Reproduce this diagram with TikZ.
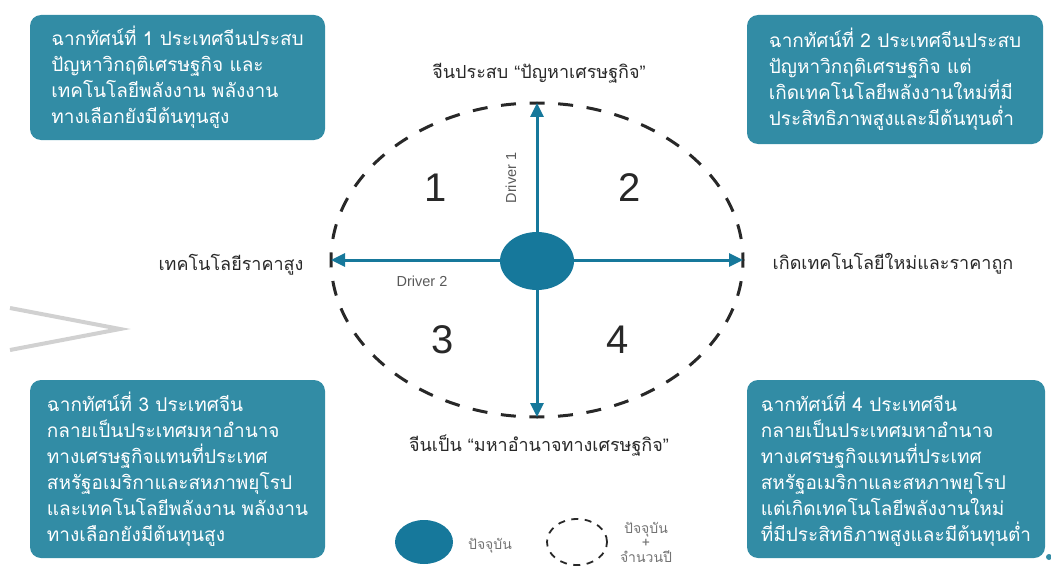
\documentclass[tikz,border=0pt]{standalone}
\usepackage{fontspec}
\setmainfont{Liberation Sans}
\newfontfamily\thaifont[Script=Thai]{Loma}
\usepackage{tikz}
\usetikzlibrary{shapes.geometric, arrows.meta, positioning}

\definecolor{teal1}{RGB}{50, 140, 165}
\definecolor{teal2}{RGB}{22, 120, 155}
\definecolor{ink1}{RGB}{40, 40, 40}

\tikzset{
  scenario/.style={fill=teal1, rounded corners=11pt, text=white, align=left,
    inner sep=0pt, font=\thaifont\fontsize{19}{26}\selectfont},
  axislabel/.style={text=ink1, font=\thaifont\fontsize{18}{22}\selectfont},
  driverarrow/.style={draw=teal2, line width=3pt, -{Triangle[length=14pt, width=13pt]}},
  quarter/.style={text=ink1, font=\fontsize{40}{40}\selectfont},
  drivertext/.style={text=black!65, font=\fontsize{14.5}{16}\selectfont},
  legendtext/.style={text=black!55, align=center, font=\thaifont\fontsize{14}{14.5}\selectfont}
}

\begin{document}
\begin{tikzpicture}[x=1pt, y=-1pt]
  \useasboundingbox (0,0) rectangle (1051,567);

  % scenario boxes
  \node[scenario, minimum width=295pt, minimum height=125pt] (sc1) at (177.5,77.5) {
    ฉากทัศน์ที่ 1 ประเทศจีนประสบ\\
    ปัญหาวิกฤติเศรษฐกิจ และ\\
    เทคโนโลยีพลังงาน พลังงาน\\
    ทางเลือกยังมีต้นทุนสูง
  };
  \node[scenario, minimum width=296pt, minimum height=129pt] (sc2) at (895,79.5) {
    ฉากทัศน์ที่ 2 ประเทศจีนประสบ\\
    ปัญหาวิกฤติเศรษฐกิจ แต่\\
    เกิดเทคโนโลยีพลังงานใหม่ที่มี\\
    ประสิทธิภาพสูงและมีต้นทุนต่ำ
  };
  \node[scenario, minimum width=295pt, minimum height=178pt] (sc3) at (177.5,469) {
    ฉากทัศน์ที่ 3 ประเทศจีน\\
    กลายเป็นประเทศมหาอำนาจ\\
    ทางเศรษฐกิจแทนที่ประเทศ\\
    สหรัฐอเมริกาและสหภาพยุโรป\\
    และเทคโนโลยีพลังงาน พลังงาน\\
    ทางเลือกยังมีต้นทุนสูง
  };
  \node[scenario, minimum width=298pt, minimum height=178pt] (sc4) at (896,469) {
    ฉากทัศน์ที่ 4 ประเทศจีน\\
    กลายเป็นประเทศมหาอำนาจ\\
    ทางเศรษฐกิจแทนที่ประเทศ\\
    สหรัฐอเมริกาและสหภาพยุโรป\\
    แต่เกิดเทคโนโลยีพลังงานใหม่\\
    ที่มีประสิทธิภาพสูงและมีต้นทุนต่ำ
  };

  % future circle and present
  \node[ellipse, draw=ink1, line width=3pt, inner sep=0pt, outer sep=0pt,
    minimum width=412pt, minimum height=314pt,
    dash pattern=on 15pt off 13.64pt, dash phase=7.5pt] (future) at (537,260) {};
  \draw[driverarrow] (537,260) -- (future.north);
  \draw[driverarrow] (537,260) -- (future.south);
  \draw[driverarrow] (537,260) -- (future.west);
  \draw[driverarrow] (537,260) -- (future.east);
  \node[ellipse, fill=teal2, inner sep=0pt, minimum width=74pt, minimum height=58pt] (now) at (537,261) {};

  % axis labels
  \node[axislabel] (up) at (539,73) {จีนประสบ {\rmfamily “}ปัญหาเศรษฐกิจ{\rmfamily ”}};
  \node[axislabel] (down) at (539,446) {จีนเป็น {\rmfamily “}มหาอำนาจทางเศรษฐกิจ{\rmfamily ”}};
  \node[axislabel] (left) at (231,265) {เทคโนโลยีราคาสูง};
  \node[axislabel] (right) at (893,264) {เกิดเทคโนโลยีใหม่และราคาถูก};

  \node[drivertext, rotate=90] (d1) at (511,178) {Driver 1};
  \node[drivertext] (d2) at (422,281) {Driver 2};

  % quarters
  \node[quarter] (q1) at (436,188) {1};
  \node[quarter] (q2) at (630,188) {2};
  \node[quarter] (q3) at (443,340) {3};
  \node[quarter] (q4) at (618,340) {4};

  % legend
  \node[ellipse, fill=teal2, inner sep=0pt, minimum width=58pt, minimum height=44pt] (lnow) at (424,542) {};
  \node[legendtext] (lnowtext) at (490,546) {ปัจจุบัน};
  \node[ellipse, draw=ink1, line width=1.8pt, dash pattern=on 7pt off 6.5pt, inner sep=0pt,
    minimum width=60pt, minimum height=46pt] (lfuture) at (577,542) {};
  \node[legendtext] (lfuturetext) at (646,542) {ปัจจุบัน\\+\\จำนวนปี};

  % decoration
  \draw[black!18, line width=4pt] (10,308) -- (120,329) -- (10,350);
  \fill[teal1] (1049,557) circle (3pt);
\end{tikzpicture}
\end{document}
